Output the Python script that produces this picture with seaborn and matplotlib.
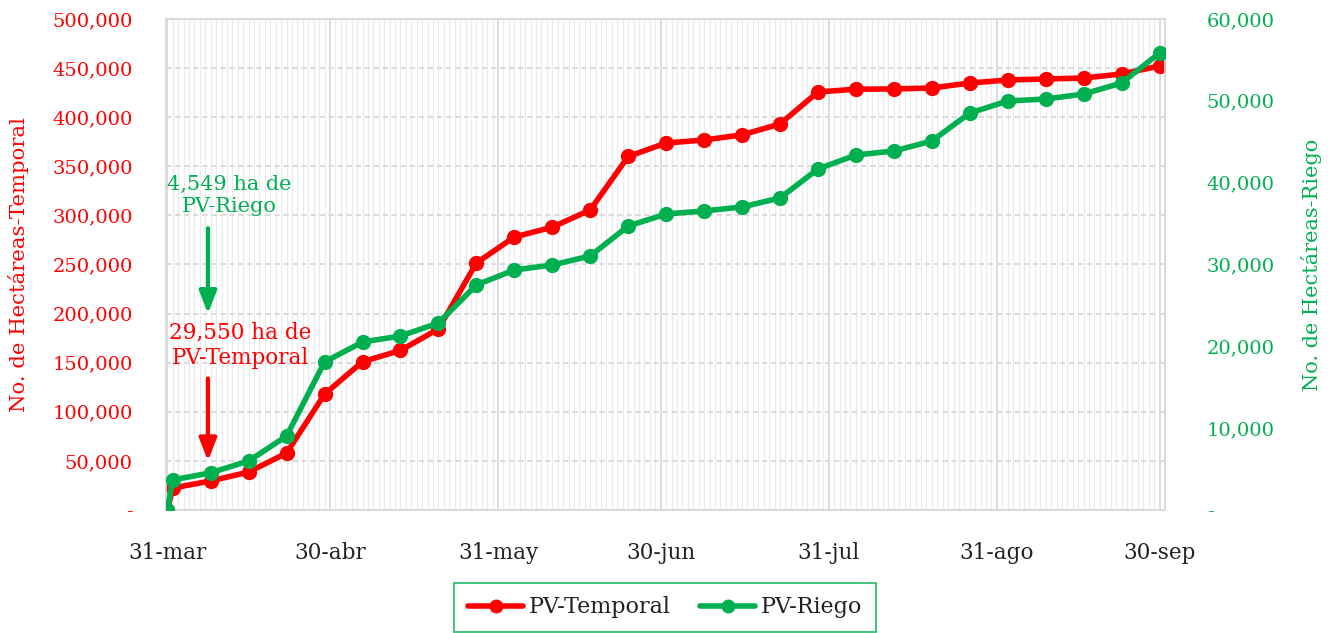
import matplotlib
matplotlib.use("Agg")
import matplotlib.pyplot as plt
import matplotlib.dates as mdates
from matplotlib.ticker import FuncFormatter, MultipleLocator
from matplotlib.lines import Line2D
import seaborn as sns
import pandas as pd

# ---------------- data ----------------
dates = ["2023-03-31", "2023-04-01", "2023-04-08", "2023-04-15", "2023-04-22", "2023-04-29",
         "2023-05-06", "2023-05-13", "2023-05-20", "2023-05-27", "2023-06-03", "2023-06-10",
         "2023-06-17", "2023-06-24", "2023-07-01", "2023-07-08", "2023-07-15", "2023-07-22",
         "2023-07-29", "2023-08-05", "2023-08-12", "2023-08-19", "2023-08-26", "2023-09-02",
         "2023-09-09", "2023-09-16", "2023-09-23", "2023-09-30"]
pv_temporal = [0, 22400, 29550, 38700, 58000, 118000, 151000, 162500, 184300, 251500,
               278000, 288000, 305500, 360000, 373700, 376800, 382000, 393100, 425700,
               428500, 428800, 429700, 434800, 437900, 438900, 439900, 444000, 452100]
pv_riego = [0, 3670, 4549, 5990, 9040, 18090, 20530, 21260, 22850, 27500, 29330, 29940,
            31040, 34700, 36170, 36540, 37030, 38130, 41670, 43380, 43870, 45090, 48510,
            49980, 50220, 50830, 52180, 55850]
tick_dates = ["2023-03-31", "2023-04-30", "2023-05-31", "2023-06-30", "2023-07-31",
              "2023-08-31", "2023-09-30"]
tick_labels = ["31-mar", "30-abr", "31-may", "30-jun", "31-jul", "31-ago", "30-sep"]
series_names = ["PV-Temporal", "PV-Riego"]

RED = "#FF0000"
GREEN = "#00B050"
GRID = "#d9d9d9"

df = pd.DataFrame({"fecha": pd.to_datetime(dates), "temporal": pv_temporal, "riego": pv_riego})

sns.set_style("white")
plt.rcParams["font.family"] = ["DejaVu Serif"]

fig = plt.figure(figsize=(13.34, 6.33), dpi=100)
ax = fig.add_axes([0.1244, 0.1943, 0.7489, 0.7757])
ax2 = ax.twinx()

sns.lineplot(data=df, x="fecha", y="temporal", ax=ax, color=RED, lw=4, marker="o",
             markersize=11, markeredgewidth=0, zorder=3)
sns.lineplot(data=df, x="fecha", y="riego", ax=ax2, color=GREEN, lw=4, marker="o",
             markersize=11, markeredgewidth=0, zorder=3)

# axes limits
ax.set_xlim(pd.Timestamp("2023-03-30 18:00"), pd.Timestamp("2023-10-01 00:00"))
ax.set_ylim(0, 500000)
ax2.set_ylim(0, 60000)

# x ticks
ax.set_xticks(pd.to_datetime(tick_dates))
ax.set_xticklabels(tick_labels)
ax.xaxis.set_minor_locator(mdates.DayLocator())
ax.tick_params(axis="x", which="major", length=8, color=GRID, width=1.2, pad=15,
               labelsize=15.5, labelcolor="#222222")
ax.tick_params(axis="x", which="minor", length=0)

# y ticks
fmt = FuncFormatter(lambda v, p: "-" if v == 0 else f"{v:,.0f}")
ax.yaxis.set_major_locator(MultipleLocator(50000))
ax.yaxis.set_major_formatter(fmt)
ax.tick_params(axis="y", length=0, pad=24, labelsize=14, labelcolor=RED)
ax2.yaxis.set_major_locator(MultipleLocator(10000))
ax2.yaxis.set_major_formatter(fmt)
ax2.tick_params(axis="y", length=0, pad=30, labelsize=14, labelcolor=GREEN)

# grid
ax.grid(which="major", axis="x", color=GRID, lw=1.3)
ax.grid(which="minor", axis="x", color="#ebebeb", lw=0.9)
ax.grid(which="major", axis="y", color=GRID, lw=1.3, linestyle=(0, (3, 2)))
ax2.grid(False)
ax.set_axisbelow(True)

for a in (ax, ax2):
    for s in a.spines.values():
        s.set_color(GRID)
        s.set_linewidth(1.2)

ax.set_xlabel("")
ax.set_ylabel("No. de Hectáreas-Temporal", color=RED, fontsize=15.3, labelpad=17)
ax2.set_ylabel("No. de Hectáreas-Riego", color=GREEN, fontsize=15, labelpad=19)

# annotations
ax.text(pd.Timestamp("2023-04-11 12:00"), 320000, "4,549 ha de\nPV-Riego", color=GREEN,
        fontsize=15, ha="center", va="center", linespacing=1.2, zorder=5)
ax.annotate("", xy=(pd.Timestamp("2023-04-07 12:00"), 200000),
            xytext=(pd.Timestamp("2023-04-07 12:00"), 287000),
            arrowprops=dict(arrowstyle="-|>,head_width=0.35,head_length=0.9", color=GREEN,
                            lw=3, mutation_scale=15, shrinkA=0, shrinkB=0), zorder=5)
ax.text(pd.Timestamp("2023-04-13 12:00"), 168000, "29,550 ha de\nPV-Temporal", color=RED,
        fontsize=15.5, ha="center", va="center", linespacing=1.2, zorder=5)
ax.annotate("", xy=(pd.Timestamp("2023-04-07 12:00"), 50000),
            xytext=(pd.Timestamp("2023-04-07 12:00"), 134000),
            arrowprops=dict(arrowstyle="-|>,head_width=0.35,head_length=0.9", color=RED,
                            lw=3, mutation_scale=15, shrinkA=0, shrinkB=0), zorder=5)

# legend
handles = [Line2D([0], [0], color=RED, lw=4, marker="o", markersize=9),
           Line2D([0], [0], color=GREEN, lw=4, marker="o", markersize=9)]
if ax.get_legend():
    ax.get_legend().remove()
leg = fig.legend(handles, series_names, loc="upper center", bbox_to_anchor=(0.4985, 0.079),
                 bbox_transform=fig.transFigure, ncol=2, frameon=True, fancybox=False,
                 edgecolor=GREEN, fontsize=16, handlelength=2.5, columnspacing=1.3,
                 borderpad=0.6, handletextpad=0.25, borderaxespad=0)
leg.get_frame().set_linewidth(1.3)
for t in leg.get_texts():
    t.set_color("#222222")

fig.savefig("out.png", dpi=100)
